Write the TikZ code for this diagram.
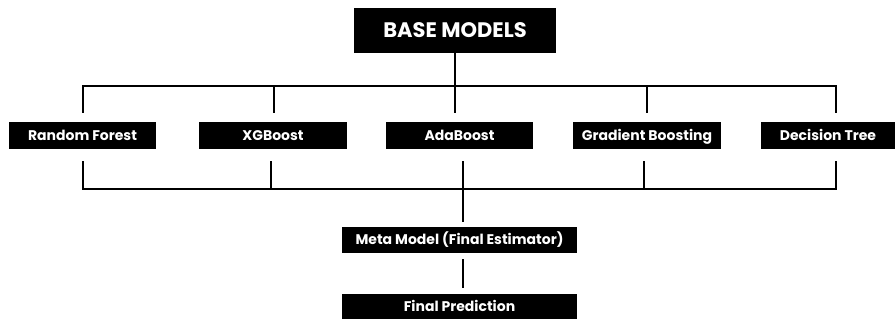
\documentclass[tikz,border=0pt]{standalone}
\usepackage{fontspec}
\setmainfont{Poppins}
\usepackage{tikz}
\usetikzlibrary{positioning}

\tikzset{
  box/.style={fill=black, text=white, inner sep=0pt, text height=12pt, text depth=2.2pt,
    font=\bfseries\fontsize{14}{16}\selectfont},
  wire/.style={line width=1.6pt}
}

\begin{document}
\begin{tikzpicture}[x=1pt, y=-1pt]
  \useasboundingbox (0,0) rectangle (896,321);
  % title box
  \node[box, minimum width=202pt, minimum height=45pt, text height=17pt, text depth=2.3pt,
    font=\bfseries\fontsize{21}{24}\selectfont] (base) at (455,30.5) {BASE MODELS};
  % the five learners
  \node[box, minimum width=147pt, minimum height=27pt] (rf) at (82.5,135.5) {Random Forest};
  \node[box, minimum width=148pt, minimum height=27pt] (xg) at (273,135.5) {XGBoost};
  \node[box, minimum width=147pt, minimum height=27pt] (ada) at (459.5,135.5) {AdaBoost};
  \node[box, minimum width=148pt, minimum height=27pt] (gb) at (647,135.5) {Gradient Boosting};
  \node[box, minimum width=134pt, minimum height=27pt] (dt) at (828,135.5) {Decision Tree};
  % stacking
  \node[box, minimum width=235pt, minimum height=26pt] (meta) at (459.5,240) {Meta Model (Final Estimator)};
  \node[box, minimum width=235pt, minimum height=25pt] (final) at (459.5,306.5) {Final Prediction};
  \coordinate (t1) at (83,86);
  \coordinate (t2) at (274,86);
  \coordinate (t4) at (647,86);
  \coordinate (t5) at (836,86);
  \coordinate (b1) at (83,189);
  \coordinate (b2) at (271,189);
  \coordinate (b3) at (463,189);
  \coordinate (b4) at (644,189);
  \coordinate (b5) at (836,189);
  % top bus
  \draw[wire, shorten <=9pt, shorten >=9pt] (t1 |- rf.north) -- (t1) -- (t5) -- (t5 |- dt.north);
  \draw[wire, shorten >=9pt] (base.south) -- (base.south |- ada.north);
  \draw[wire, shorten >=9pt] (t2) -- (t2 |- xg.north);
  \draw[wire, shorten >=9pt] (t4) -- (t4 |- gb.north);
  % bottom bus
  \draw[wire, shorten <=12pt, shorten >=12pt] (b1 |- rf.south) -- (b1) -- (b5) -- (b5 |- dt.south);
  \draw[wire, shorten <=12pt] (b2 |- xg.south) -- (b2);
  \draw[wire, shorten <=12pt] (b4 |- gb.south) -- (b4);
  \draw[wire, shorten <=12pt, shorten >=5pt] (b3 |- ada.south) -- (b3 |- meta.north);
  \draw[wire, shorten <=6pt, shorten >=6pt] (meta.south -| b3) -- (final.north -| b3);
\end{tikzpicture}
\end{document}
